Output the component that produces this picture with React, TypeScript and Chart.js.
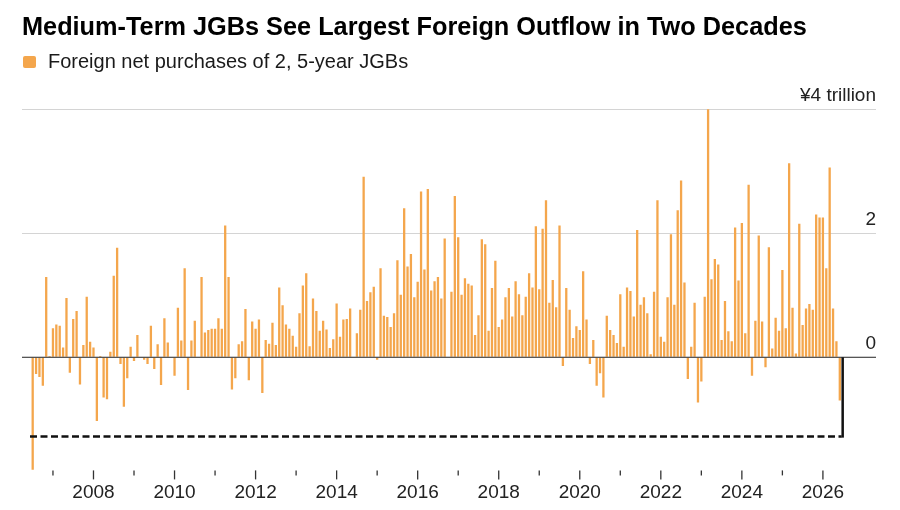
import React, { useEffect, useRef } from 'react';
import { Chart, registerables } from 'chart.js';

Chart.register(...registerables);

// ---- data -------------------------------------------------------------
const START_YEAR = 2006;
const START_MONTH = 7; // first bar: July 2006

// Foreign net purchases of 2- and 5-year JGBs, trillion yen, monthly
const netPurchases: number[] = [
  // 2006 Jul-Dec
  -1.82, -0.27, -0.32, -0.46, 1.30, 0.02,
  // 2007
  0.47, 0.53, 0.51, 0.16, 0.96, -0.25, 0.62, 0.75, -0.44, 0.20, 0.98, 0.25,
  // 2008
  0.16, -1.03, 0.02, -0.65, -0.68, 0.09, 1.32, 1.77, -0.11, -0.80, -0.34, 0.17,
  // 2009
  -0.06, 0.36, 0.01, -0.04, -0.11, 0.51, -0.19, 0.21, -0.45, 0.63, 0.24, 0.01,
  // 2010
  -0.30, 0.80, 0.27, 1.44, -0.53, 0.27, 0.59, 0.01, 1.30, 0.40, 0.44, 0.46,
  // 2011
  0.46, 0.63, 0.46, 2.13, 1.30, -0.52, -0.34, 0.21, 0.26, 0.78, -0.37, 0.58,
  // 2012
  0.46, 0.61, -0.58, 0.28, 0.22, 0.56, 0.20, 1.13, 0.84, 0.53, 0.46, 0.35,
  // 2013
  0.17, 0.71, 1.16, 1.36, 0.18, 0.95, 0.75, 0.43, 0.59, 0.45, 0.15, 0.29,
  // 2014
  0.87, 0.33, 0.61, 0.62, 0.79, 0.01, 0.39, 0.77, 2.92, 0.91, 1.05, 1.14,
  // 2015
  -0.04, 1.44, 0.67, 0.65, 0.49, 0.71, 1.57, 1.01, 2.41, 1.47, 1.67, 0.97,
  // 2016
  1.22, 2.68, 1.42, 2.72, 1.08, 1.23, 1.30, 0.95, 1.92, 0.01, 1.06, 2.61,
  // 2017
  1.94, 1.01, 1.28, 1.19, 1.16, 0.36, 0.68, 1.91, 1.83, 0.43, 1.12, 1.56,
  // 2018
  0.49, 0.61, 0.97, 1.12, 0.66, 1.23, 1.02, 0.68, 0.98, 1.36, 1.13, 2.12,
  // 2019
  1.10, 2.08, 2.54, 0.88, 1.25, 0.81, 2.13, -0.14, 1.12, 0.77, 0.31, 0.50,
  // 2020
  0.44, 1.39, 0.61, -0.11, 0.28, -0.46, -0.26, -0.65, 0.67, 0.44, 0.36, 0.23,
  // 2021
  1.02, 0.17, 1.13, 1.07, 0.66, 2.06, 0.85, 0.97, 0.71, 0.05, 1.06, 2.54,
  // 2022
  0.33, 0.25, 0.97, 1.99, 0.85, 2.38, 2.86, 1.21, -0.35, 0.17, 0.88, -0.73,
  // 2023
  -0.39, 0.98, 4.01, 1.26, 1.59, 1.50, 0.28, 0.91, 0.42, 0.26, 2.10, 1.24,
  // 2024
  2.17, 0.39, 2.79, -0.30, 0.59, 1.97, 0.58, -0.16, 1.78, 0.14, 0.64, 0.43,
  // 2025
  1.41, 0.47, 3.14, 0.80, 0.06, 2.16, 0.52, 0.79, 0.86, 0.77, 2.31, 2.26,
  // 2026 Jan-Jun
  2.26, 1.44, 3.07, 0.79, 0.26, -0.70,
];

// month categories, e.g. "2006-07"
const months: string[] = netPurchases.map((_, i) => {
  const m = START_MONTH - 1 + i;
  return `${START_YEAR + Math.floor(m / 12)}-${String((m % 12) + 1).padStart(2, '0')}`;
});

const labelledYears = [2008, 2010, 2012, 2014, 2016, 2018, 2020, 2022, 2024, 2026];
const yTicks = [0, 2, 4];
const yTickLabels = ['0', '2', '¥4 trillion'];
const OUTFLOW_MARK = -1.28; // dashed reference level

const TITLE = 'Medium-Term JGBs See Largest Foreign Outflow in Two Decades';
const LEGEND = 'Foreign net purchases of 2, 5-year JGBs';

const BAR_COLOR = '#F4A64C';
const FONT = '"Liberation Sans", Arial, Helvetica, sans-serif';

const januaryIdx: number[] = months
  .map((m, i) => (m.endsWith('-01') ? i : -1))
  .filter((i) => i >= 0);
const yearOf = (idx: number) => Number(months[Math.round(idx)]?.slice(0, 4));

const decorPlugin = {
  id: 'decor',
  afterDatasetsDraw(chart: any) {
    const { ctx, chartArea, scales } = chart;
    const x = scales.x;
    const y = scales.y;
    ctx.save();

    // zero line on top of bars
    const y0 = y.getPixelForValue(0);
    ctx.strokeStyle = '#222';
    ctx.lineWidth = 1;
    ctx.beginPath();
    ctx.moveTo(chartArea.left, y0);
    ctx.lineTo(chartArea.right, y0);
    ctx.stroke();

    // dashed outflow reference and vertical marker at the latest month
    const ppu = x.getPixelForValue(1) - x.getPixelForValue(0);
    const xa = x.getPixelForValue(0) - 0.8 * ppu;
    const xb = x.getPixelForValue(netPurchases.length - 1) + 0.85 * ppu;
    const ya = y.getPixelForValue(OUTFLOW_MARK);
    ctx.strokeStyle = '#111';
    ctx.lineWidth = 2.5;
    ctx.setLineDash([7, 3.5]);
    ctx.beginPath();
    ctx.moveTo(xa, ya);
    ctx.lineTo(xb - 1, ya);
    ctx.stroke();
    ctx.setLineDash([]);
    ctx.beginPath();
    ctx.moveTo(xb, y0);
    ctx.lineTo(xb, ya + 1.25);
    ctx.stroke();

    // year tick marks
    ctx.strokeStyle = '#333';
    ctx.lineWidth = 1.3;
    januaryIdx.forEach((idx) => {
      const px = x.getPixelForValue(idx);
      const major = labelledYears.includes(yearOf(idx));
      ctx.beginPath();
      ctx.moveTo(px, chartArea.bottom);
      ctx.lineTo(px, chartArea.bottom + (major ? 9 : 5));
      ctx.stroke();
    });

    // y labels above gridlines, right aligned
    ctx.font = `19px ${FONT}`;
    ctx.fillStyle = '#222';
    ctx.textAlign = 'right';
    ctx.textBaseline = 'alphabetic';
    yTicks.forEach((v, i) => {
      ctx.fillText(yTickLabels[i], chartArea.right, y.getPixelForValue(v) - 8.5);
    });
    ctx.restore();
  },
};

export default function App() {
  const canvasRef = useRef<HTMLCanvasElement | null>(null);

  useEffect(() => {
    if (!canvasRef.current) return;
    const points = netPurchases.map((v, i) => ({ x: i, y: v }));
    const chart = new Chart(canvasRef.current, {
      type: 'bar',
      data: {
        labels: months,
        datasets: [
          {
            label: LEGEND,
            data: points as any,
            backgroundColor: BAR_COLOR,
            borderWidth: 0,
            barPercentage: 0.68,
            categoryPercentage: 1,
          },
        ],
      },
      options: {
        animation: false,
        responsive: false,
        maintainAspectRatio: false,
        layout: { padding: { left: 22, right: 24, top: 103.8, bottom: 15.4 } },
        plugins: {
          legend: { display: false },
          tooltip: { enabled: false },
        },
        scales: {
          x: {
            type: 'linear',
            min: -3.168,
            max: 249.72,
            offset: false,
            grid: { display: false, drawTicks: false },
            border: { display: false },
            afterBuildTicks: (scale: any) => {
              scale.ticks = januaryIdx.map((v) => ({ value: v }));
            },
            ticks: {
              autoSkip: false,
              maxRotation: 0,
              minRotation: 0,
              padding: 10.7,
              color: '#222',
              font: { family: FONT, size: 19 },
              callback: (v: any) => {
                const yr = yearOf(Number(v));
                return labelledYears.includes(yr) ? String(yr) : '';
              },
            },
          },
          y: {
            type: 'linear',
            position: 'right',
            min: -1.83,
            max: 4.1,
            grid: {
              drawTicks: false,
              lineWidth: 1,
              color: (c: any) => (c.tick && c.tick.value === 0 ? 'rgba(0,0,0,0)' : '#d4d4d4'),
            },
            border: { display: false },
            afterBuildTicks: (scale: any) => {
              scale.ticks = yTicks.map((v) => ({ value: v }));
            },
            ticks: { display: false },
          },
        },
      },
      plugins: [decorPlugin],
    });
    return () => chart.destroy();
  }, []);

  return (
    <div
      style={{
        position: 'fixed',
        left: 0,
        top: 0,
        width: 900,
        height: 510,
        overflow: 'hidden',
        background: '#fff',
        fontFamily: FONT,
      }}
    >
      <canvas
        ref={canvasRef}
        width={900}
        height={530}
        style={{ position: 'absolute', left: 0, top: 0, width: 900, height: 530, display: 'block' }}
      />
      <div
        style={{
          position: 'absolute',
          left: 22,
          top: 13.8,
          fontSize: 25.3,
          lineHeight: '25px',
          fontWeight: 700,
          color: '#000',
          whiteSpace: 'nowrap',
        }}
      >
        {TITLE}
      </div>
      <div
        style={{
          position: 'absolute',
          left: 23,
          top: 56,
          width: 13,
          height: 12,
          borderRadius: 2,
          background: BAR_COLOR,
        }}
      />
      <div
        style={{
          position: 'absolute',
          left: 48,
          top: 51.4,
          fontSize: 20,
          lineHeight: '20px',
          color: '#1a1a1a',
          whiteSpace: 'nowrap',
        }}
      >
        {LEGEND}
      </div>
    </div>
  );
}
